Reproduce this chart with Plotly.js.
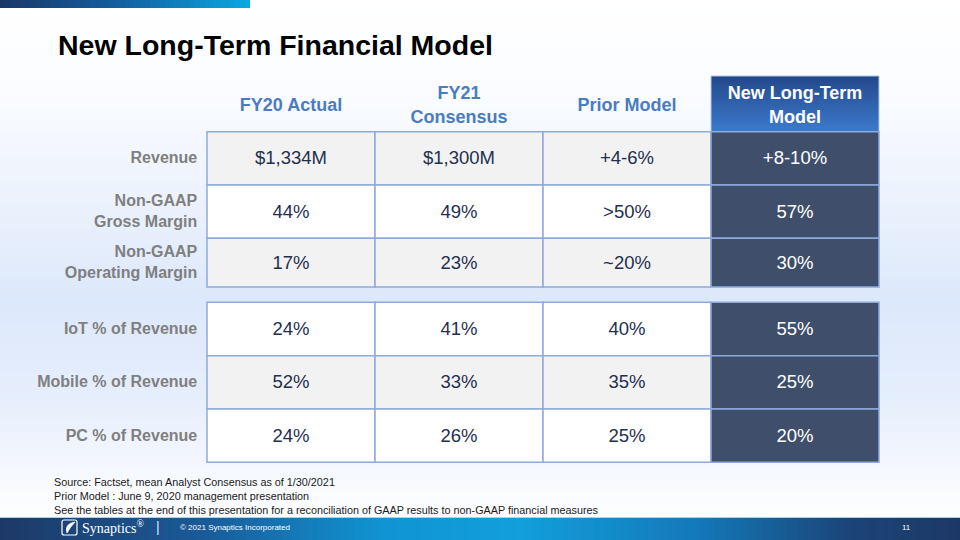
<!DOCTYPE html>
<html>
<head>
<meta charset="utf-8">
<script src="https://cdn.plot.ly/plotly-3.0.1.min.js"></script>
<style>html,body{margin:0;padding:0;background:#fff;}#chart{width:960px;height:540px;}</style>
</head>
<body>
<div id="chart"></div>
<script>
// ---------- DATA ----------
const columns = ['FY20 Actual', 'FY21<br>Consensus', 'Prior Model', 'New Long-Term<br>Model'];
const rowLabels = ['Revenue', 'Non-GAAP<br>Gross Margin', 'Non-GAAP<br>Operating Margin',
                   'IoT % of Revenue', 'Mobile % of Revenue', 'PC % of Revenue'];
const fy20Actual   = ['$1,334M', '44%', '17%', '24%', '52%', '24%'];
const fy21Consensus = ['$1,300M', '49%', '23%', '41%', '33%', '26%'];
const priorModel   = ['+4-6%', '>50%', '~20%', '40%', '35%', '25%'];
const newModel     = ['+8-10%', '57%', '30%', '55%', '25%', '20%'];
const title = 'New Long-Term Financial Model';
const footnotes = ['Source: Factset, mean Analyst Consensus as of 1/30/2021',
                   'Prior Model : June 9, 2020 management presentation',
                   'See the tables at the end of this presentation for a reconciliation of GAAP results to non-GAAP financial measures'];

// ---------- LAYOUT CONSTANTS ----------
const W = 960, H = 540;
const colValues = [fy20Actual, fy21Consensus, priorModel, newModel];
const rowTop = [0, 1, 2, 3.2, 4.2, 5.2];
const rowBot = [1, 2, 2.91, 4.2, 5.2, 6.2];
const headerTop = -1.045;
const gridColor = '#8eaadb';
const stripe = ['#f2f2f2', '#ffffff', '#f2f2f2', '#ffffff', '#f2f2f2', '#ffffff'];
const darkCell = '#3f4f6b';

function hex2rgb(h){h=h.replace('#','');return [0,2,4].map(i=>parseInt(h.substr(i,2),16));}
function lerpStops(stops, t){
  for(let i=0;i<stops.length-1;i++){
    const [p0,c0]=stops[i],[p1,c1]=stops[i+1];
    if(t>=p0 && t<=p1){
      const f=(t-p0)/(p1-p0||1), a=hex2rgb(c0), b=hex2rgb(c1);
      return 'rgb('+a.map((v,k)=>Math.round(v+(b[k]-v)*f)).join(',')+')';
    }
  }
  return stops[stops.length-1][1];
}

const shapes = [];
// background vertical gradient (stacked bands, each reaching the bottom to avoid seams)
const bgStops = [[0,'#ffffff'],[90,'#fafcff'],[200,'#ecf2fc'],[300,'#dce8fb'],[400,'#e6eefc'],[470,'#f5f8fe'],[520,'#ffffff']];
const bandH = 6;
for(let py=0; py<H; py+=bandH){
  shapes.push({type:'rect',xref:'paper',yref:'paper',x0:0,x1:1,y0:0,y1:1-py/H,
    fillcolor:lerpStops(bgStops, py+bandH/2),line:{width:0},layer:'below'});
}
// top accent bar
const topStops=[[0,'#1b3767'],[120,'#135fa0'],[250,'#0aa8e2']];
for(let px=0; px<250; px+=5){
  shapes.push({type:'rect',xref:'paper',yref:'paper',x0:px/W,x1:250/W,y0:1-8/H,y1:1,
    fillcolor:lerpStops(topStops,px+2.5),line:{width:0},layer:'below'});
}
// footer bar
const footStops=[[0,'#1d3866'],[200,'#1a5a98'],[380,'#1193d2'],[520,'#129fdc'],[700,'#1478b8'],[850,'#1b4478'],[960,'#1d3866']];
for(let px=0; px<W; px+=6){
  shapes.push({type:'rect',xref:'paper',yref:'paper',x0:px/W,x1:1,y0:0,y1:1-518/H,
    fillcolor:lerpStops(footStops,px+3),line:{width:0},layer:'below'});
}
shapes.push({type:'line',xref:'paper',yref:'paper',x0:0,x1:1,y0:1-517.5/H,y1:1-517.5/H,line:{color:'#a8d2ee',width:1.2},layer:'below'});

// header gradient box for last column (stacked slices)
const hdrSlices = 24;
for(let s=0;s<hdrSlices;s++){
  const t0 = headerTop + (0-headerTop)*s/hdrSlices;
  const a=hex2rgb('#23488a'), b=hex2rgb('#3c7bcd'), f=(s+0.5)/hdrSlices;
  shapes.push({type:'rect',xref:'x',yref:'y',x0:3,x1:4,y0:t0,y1:0,layer:'below',
    fillcolor:'rgb('+a.map((v,k)=>Math.round(v+(b[k]-v)*f)).join(',')+')',line:{width:0}});
}
shapes.push({type:'rect',xref:'x',yref:'y',x0:3,x1:4,y0:headerTop,y1:0,layer:'below',fillcolor:'rgba(0,0,0,0)',line:{color:'#b7c9e6',width:1}});

// cells
for(let r=0;r<rowLabels.length;r++){
  for(let c=0;c<columns.length;c++){
    shapes.push({type:'rect',xref:'x',yref:'y',x0:c,x1:c+1,y0:rowTop[r],y1:rowBot[r],layer:'below',
      fillcolor: c===columns.length-1 ? darkCell : stripe[r],
      line:{color:gridColor,width:1.5}});
  }
}

const fontMain = 'Liberation Sans, Arial, sans-serif';
const traces = [];
const rowMid = rowTop.map((t,i)=>(t+rowBot[i])/2);
colValues.forEach((vals,c)=>{
  traces.push({type:'scatter',mode:'text',x:vals.map(()=>c+0.5),y:rowMid.map(v=>v+0.025),text:vals,
    textposition:'middle center',hoverinfo:'skip',showlegend:false,cliponaxis:false,
    textfont:{family:fontMain,size:18.5,color: c===columns.length-1 ? '#ffffff' : '#1f2f4f'}});
});
// header
traces.push({type:'scatter',mode:'text',x:columns.map((_,c)=>c+0.5),y:columns.map(()=>headerTop/2+0.05),
  text:columns.map(s=>'<b>'+s+'</b>'),textposition:'middle center',hoverinfo:'skip',showlegend:false,cliponaxis:false,
  textfont:{family:fontMain,size:18,color:columns.map((_,c)=>c===columns.length-1?'#ffffff':'#4a7cc1')}});
// row labels
traces.push({type:'scatter',mode:'text',x:rowLabels.map(()=>-0.058),y:rowMid.map(v=>v+0.02),
  text:rowLabels.map(s=>'<b>'+s+'</b>'),textposition:'middle left',hoverinfo:'skip',showlegend:false,cliponaxis:false,
  textfont:{family:fontMain,size:16,color:'#7f7f7f'}});

const annotations = [];
annotations.push({xref:'paper',yref:'paper',x:56/W,y:1-45/H,xanchor:'left',yanchor:'middle',showarrow:false,
  text:'<b>'+title+'</b>',font:{family:'Liberation Sans Narrow, Arial Narrow, Liberation Sans, sans-serif',size:28.5,color:'#000000'}});
footnotes.forEach((t,i)=>{
  annotations.push({xref:'paper',yref:'paper',x:52/W,y:1-(482+14*i)/H,xanchor:'left',yanchor:'middle',showarrow:false,
    text:t,font:{family:'Liberation Sans Narrow, Arial Narrow, Liberation Sans, sans-serif',size:10.8,color:'#1a1a1a'}});
});
// footer texts
annotations.push({xref:'paper',yref:'paper',x:80/W,y:1-527/H,xanchor:'left',yanchor:'middle',showarrow:false,
  text:'Synaptics<sup>®</sup>',font:{family:'Liberation Serif, DejaVu Serif, serif',size:14,color:'#ffffff'}});
annotations.push({xref:'paper',yref:'paper',x:158/W,y:1-527/H,xanchor:'center',yanchor:'middle',showarrow:false,
  text:'|',font:{family:fontMain,size:14,color:'#dfe9f5'}});
annotations.push({xref:'paper',yref:'paper',x:178/W,y:1-527/H,xanchor:'left',yanchor:'middle',showarrow:false,
  text:'© 2021 Synaptics Incorporated',font:{family:fontMain,size:8,color:'#ffffff'}});
annotations.push({xref:'paper',yref:'paper',x:906/W,y:1-527/H,xanchor:'center',yanchor:'middle',showarrow:false,
  text:'11',font:{family:fontMain,size:8,color:'#ffffff'}});
// logo icon (rounded square with swoosh)
const px2x = p=>p/W, px2y = p=>1-p/H;
shapes.push({type:'path',xref:'paper',yref:'paper',
  path:'M '+px2x(64)+','+px2y(520)+' L '+px2x(75)+','+px2y(520)+' Q '+px2x(77)+','+px2y(520)+' '+px2x(77)+','+px2y(522)+
       ' L '+px2x(77)+','+px2y(533)+' Q '+px2x(77)+','+px2y(535)+' '+px2x(75)+','+px2y(535)+
       ' L '+px2x(64)+','+px2y(535)+' Q '+px2x(62)+','+px2y(535)+' '+px2x(62)+','+px2y(533)+
       ' L '+px2x(62)+','+px2y(522)+' Q '+px2x(62)+','+px2y(520)+' '+px2x(64)+','+px2y(520)+' Z',
  fillcolor:'rgba(0,0,0,0)',line:{color:'#ffffff',width:1.2}});
shapes.push({type:'path',xref:'paper',yref:'paper',
  path:'M '+px2x(75)+','+px2y(522)+' Q '+px2x(64)+','+px2y(524)+' '+px2x(67)+','+px2y(533)+' Q '+px2x(70)+','+px2y(527)+' '+px2x(75)+','+px2y(522)+' Z',
  fillcolor:'#ffffff',line:{color:'#ffffff',width:0.8}});

const y0px = 131.7, rowPx = 53.33, x0px = 207, colPx = 168;
const layout = {
  width:W,height:H,margin:{l:0,r:0,t:0,b:0},
  paper_bgcolor:'#ffffff',plot_bgcolor:'rgba(0,0,0,0)',
  xaxis:{range:[-x0px/colPx,(W-x0px)/colPx],visible:false,fixedrange:true},
  yaxis:{range:[(H-y0px)/rowPx,-y0px/rowPx],visible:false,fixedrange:true},
  shapes:shapes,annotations:annotations,showlegend:false
};
Plotly.newPlot('chart',traces,layout,{displayModeBar:false,staticPlot:true});
</script>
</body>
</html>
